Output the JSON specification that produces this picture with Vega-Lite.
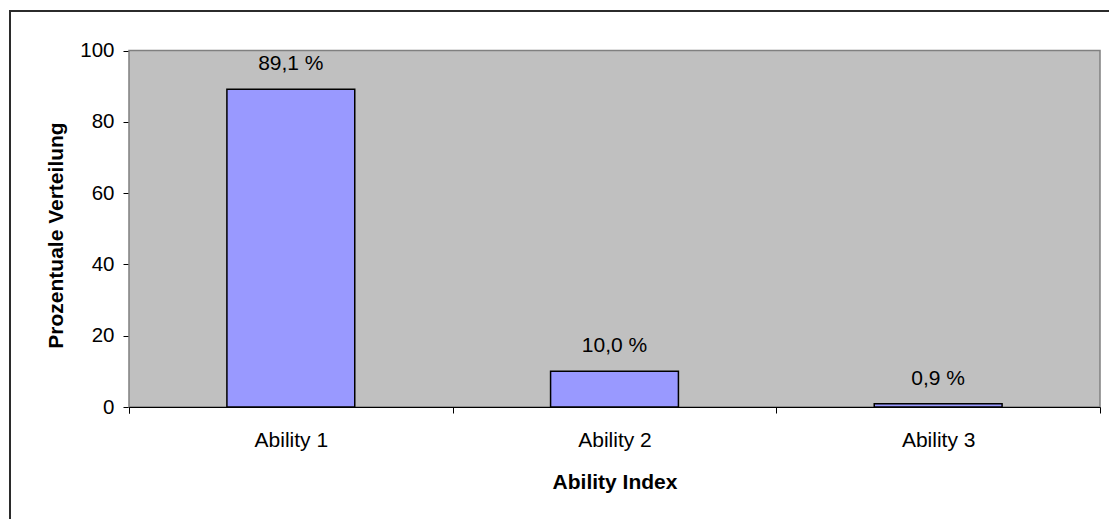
{
  "$schema": "https://vega.github.io/schema/vega-lite/v6.json",
  "width": 1110,
  "height": 520,
  "autosize": {"type": "none"},
  "padding": {"left": 10, "top": 11, "right": 0, "bottom": 0},
  "background": "white",
  "config": {
    "font": "Liberation Sans",
    "view": {"stroke": "#2b2b2b", "strokeWidth": 2},
    "axis": {
      "domainColor": "black",
      "domainWidth": 1,
      "tickColor": "black",
      "tickWidth": 1,
      "tickSize": 6,
      "labelColor": "black",
      "labelFont": "Liberation Sans",
      "labelFontSize": 21,
      "titleFont": "Liberation Sans",
      "titleFontSize": 21,
      "titleFontWeight": "bold",
      "titleColor": "black",
      "grid": false,
      "zindex": 1
    }
  },
  "layer": [
    {
      "data": {"values": [{"area": "plot"}]},
      "mark": {"type": "rect", "fill": "#C0C0C0", "stroke": "#808080", "strokeWidth": 1.5},
      "encoding": {
        "x": {
          "datum": 0,
          "type": "quantitative",
          "scale": {"domain": [0, 1], "range": [119, 1090]},
          "axis": {
            "orient": "bottom",
            "values": [0, 1],
            "labels": false,
            "domain": false,
            "ticks": true,
            "title": null,
            "offset": -124,
            "zindex": 2
          }
        },
        "x2": {"datum": 1},
        "y": {
          "datum": 0,
          "type": "quantitative",
          "scale": {"domain": [0, 100], "range": [396, 39.5], "nice": false},
          "axis": {
            "title": "Prozentuale Verteilung",
            "values": [0, 20, 40, 60, 80, 100],
            "offset": -119,
            "labelPadding": 9,
            "labelFontSize": 20.5,
            "titleX": -67,
            "titleY": 224,
            "titleAngle": -90,
            "titleAlign": "center",
            "titleBaseline": "alphabetic"
          }
        },
        "y2": {"datum": 100}
      }
    },
    {
      "data": {
        "values": [
          {"ability": "Ability 1", "percent": 89.1, "label": "89,1 %"},
          {"ability": "Ability 2", "percent": 10.0, "label": "10,0 %"},
          {"ability": "Ability 3", "percent": 0.9, "label": "0,9 %"}
        ]
      },
      "encoding": {
        "x": {
          "field": "ability",
          "type": "nominal",
          "sort": null,
          "scale": {"range": [119, 1090], "paddingInner": 0.605, "paddingOuter": 0.3025},
          "axis": {
            "orient": "bottom",
            "title": "Ability Index",
            "labelAngle": 0,
            "domain": true,
            "ticks": true,
            "bandPosition": 0,
            "tickOffset": -97.9,
            "labelOffset": 97.9,
            "tickExtra": false,
            "offset": -124,
            "labelPadding": 16,
            "titleY": 81,
            "titleBaseline": "alphabetic",
            "zindex": 2
          }
        },
        "y": {
          "field": "percent",
          "type": "quantitative",
          "scale": {"domain": [0, 100], "range": [396, 39.5], "nice": false}
        }
      },
      "layer": [
        {
          "mark": {"type": "bar", "fill": "#9999FF", "stroke": "black", "strokeWidth": 1.5}
        },
        {
          "mark": {"type": "text", "baseline": "alphabetic", "dy": -19, "fontSize": 21, "font": "Liberation Sans", "color": "black"},
          "encoding": {"text": {"field": "label"}}
        }
      ]
    }
  ],
  "resolve": {"scale": {"x": "independent"}, "axis": {"x": "independent"}}
}
